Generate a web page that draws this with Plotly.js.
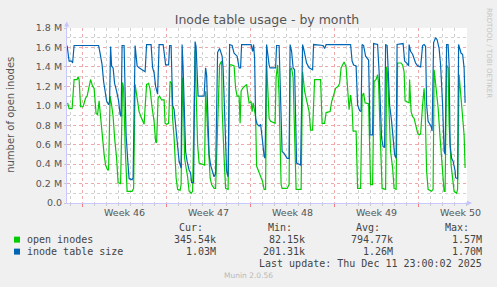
<!DOCTYPE html>
<html>
<head>
<meta charset="utf-8">
<script src="https://cdn.plot.ly/plotly-3.0.1.min.js"></script>
<style>html,body{margin:0;padding:0;background:#f0f0f0;}#chart{width:497px;height:287px;}</style>
</head>
<body>
<div id="chart"></div>
<script>
// ---- data (hours since 2025-11-08 17:00, values in millions) ----
const openHours = [1,4,10,14,20,22,24,27,32,34,37,40,44,47,51,54,58,61,64,68,71,74,77,81,83,86,89,92,95,99,102,107,111,113,116,120,130,133,136,140,144,149,154,156,159,163,166,170,174,177,179,182,185,189,194,196,199,203,206,209,211,214,216,218,221,226,228,231,233,235,238,241,244,248,251,256,258,261,264,271,275,277,280,283,286,289,294,297,301,305,309,310,314,317,322,325,329,334,337,340,344,346,348,351,355,359,362,364,368,370,372,374,377,379,383,387,391,394,397,399,402,404,407,416,418,421,424,426,428,430,440,444,446,449,452,454,456,458,468,471,475,480,484,487,491,495,507,510,515,518,526,529,533,537,542,545,548,554,558,562,564,567,570,572,578,581,587,590,593,596,603,607,611,614,618,621,623,626,630,637,639,641,644,647,651,654,658,661,668,671,674,676,684,685,688,691,694,697,701,704,707,711,714,716,719,722,729,732,734,738,742,746,749,753,754,756,759,762,764,768,771,774,779,781,784,787,791,794,796];
const openInodes = [1.03,0.97,0.97,1.27,1.27,1.30,1.27,0.99,0.99,1.03,1.08,1.10,1.18,1.27,1.20,1.18,0.92,0.91,1.05,0.81,0.70,0.50,0.39,0.34,0.34,1.10,1.01,0.89,0.67,0.46,0.21,0.20,1.24,1.18,0.60,0.12,0.12,0.15,1.22,1.06,0.94,0.87,0.81,0.98,1.22,1.23,1.17,0.98,0.84,0.63,0.62,1.08,1.10,1.06,1.06,0.82,0.81,0.82,1.25,1.23,0.87,0.67,0.46,0.26,0.14,0.13,0.19,1.29,0.98,0.46,0.36,0.27,0.12,0.10,0.12,1.57,1.15,0.60,0.41,0.40,0.39,1.15,0.81,0.46,0.26,0.19,0.15,0.15,0.90,1.42,1.46,0.98,0.46,0.15,0.14,1.42,1.42,1.41,1.18,1.10,1.10,0.82,1.15,1.18,1.20,1.22,1.10,1.03,1.04,0.94,1.03,0.98,0.89,0.38,0.33,0.29,0.22,0.14,0.14,1.45,1.15,0.87,0.84,0.82,1.29,1.42,1.10,0.53,0.19,0.15,0.15,0.19,1.37,1.39,1.29,0.90,0.45,0.14,0.14,1.35,1.15,1.01,0.94,0.75,0.75,1.27,1.27,0.82,0.82,0.93,0.94,1.04,1.11,1.18,1.20,1.23,1.39,1.45,1.40,1.01,0.96,1.11,0.98,0.74,0.74,0.15,0.15,1.10,1.13,1.03,1.02,0.19,0.19,1.25,1.27,1.32,1.23,0.74,0.15,0.14,1.40,1.32,0.94,0.53,0.36,0.15,0.14,1.44,1.44,1.42,1.35,1.05,1.03,1.27,0.94,0.89,0.87,0.81,0.72,0.70,0.71,1.01,1.18,0.98,0.33,0.14,0.12,0.14,1.37,1.18,0.98,0.67,0.46,0.22,0.12,0.12,1.42,1.39,0.81,0.39,0.26,0.12,0.10,0.14,1.32,1.15,0.94,0.70,0.36];

const sizeHours = [0,4,9,11,14,63,66,70,73,76,79,83,85,87,89,92,95,99,103,106,108,110,114,116,118,121,124,130,132,136,140,144,149,156,159,168,171,174,177,181,184,192,195,197,203,205,208,211,214,217,220,224,228,230,232,234,237,240,244,247,249,253,256,258,260,262,274,277,279,281,284,287,291,294,297,301,305,310,312,314,317,319,322,325,330,334,340,344,347,349,368,371,373,375,377,380,384,387,391,394,396,399,404,406,417,419,424,427,430,434,440,444,446,449,452,455,457,459,467,471,473,479,484,491,493,512,515,518,567,570,573,578,581,585,588,590,593,597,600,603,606,611,613,621,624,626,629,632,635,637,640,642,645,649,652,655,658,660,672,675,679,683,684,687,691,694,697,701,707,711,714,717,719,722,725,728,730,733,737,740,744,747,751,754,756,759,762,764,766,769,772,776,777,781,783,785,788,791,794,796];
const inodeTableSize = [1.62,1.46,1.46,1.44,1.62,1.62,1.54,1.42,1.25,1.15,1.05,1.01,1.05,1.61,1.41,1.39,1.23,1.15,1.05,0.91,0.89,1.62,1.62,1.15,0.70,0.46,0.25,0.24,0.26,1.62,1.41,1.39,1.37,1.35,1.63,1.63,1.39,1.34,1.20,1.12,1.63,1.63,1.51,1.42,1.42,1.62,1.62,1.01,0.96,0.81,0.60,0.43,0.36,1.63,1.39,0.94,0.53,0.43,0.34,0.31,0.21,0.21,1.66,1.61,1.42,1.10,1.10,1.39,1.32,0.94,0.50,0.39,0.31,0.27,0.30,1.55,1.59,1.51,1.39,1.05,0.60,0.33,0.27,1.63,1.62,1.54,1.51,1.39,1.39,1.63,1.63,1.56,1.63,1.49,0.87,0.81,0.79,0.81,0.63,0.48,0.46,1.63,1.42,1.39,1.39,1.62,1.62,0.98,0.53,0.51,0.46,0.46,1.63,1.56,1.39,1.37,0.85,0.41,0.39,1.63,1.59,1.44,1.39,1.37,1.63,1.62,1.59,1.63,1.63,1.46,1.42,1.41,1.01,0.95,0.94,1.63,1.62,1.51,1.49,1.47,0.70,0.70,1.64,1.63,1.35,0.98,0.67,0.58,0.57,1.63,1.62,1.39,1.01,0.84,0.70,0.50,0.46,1.63,1.64,1.46,1.44,1.41,1.63,1.56,1.53,1.49,1.44,1.41,1.40,1.62,1.63,1.61,1.01,0.84,0.82,0.79,0.74,1.65,1.70,1.68,1.59,1.42,1.01,0.53,0.50,1.63,1.63,1.42,0.60,0.46,0.43,0.33,0.26,0.25,1.63,1.59,1.54,1.53,1.39,1.03];

const weekLabels = ['Week 46','Week 47','Week 48','Week 49','Week 50'];
const weekCenters = ['2025-11-13 12:00','2025-11-20 12:00','2025-11-27 12:00','2025-12-04 12:00','2025-12-11 12:00'];
const weekStarts = ['2025-11-10','2025-11-17','2025-11-24','2025-12-01','2025-12-08'];
const yTickVals = [0,0.2,0.4,0.6,0.8,1.0,1.2,1.4,1.6,1.8];
const yTickText = ['0.0','0.2 M','0.4 M','0.6 M','0.8 M','1.0 M','1.2 M','1.4 M','1.6 M','1.8 M'];
const seriesNames = ['open inodes','inode table size'];
const statHeads = ['Cur:','Min:','Avg:','Max:'];
const statsOpen = ['345.54k','82.15k','794.77k','1.57M'];
const statsSize = ['1.03M','201.31k','1.26M','1.70M'];

// ---- helpers ----
const base = Date.UTC(2025,10,8,17,0,0);
function toDate(h){ return new Date(base + h*3600e3).toISOString().slice(0,19).replace('T',' '); }
const L=67, R=467, T=28, B=203.3;
function px(x){ return (x-L)/(R-L); }
function py(y){ return (B-y)/(B-T); }

const GREEN='#00cc00', BLUE='#0066b3';
const traces = [
  {x: openHours.map(toDate), y: openInodes, type:'scatter', mode:'lines', name:seriesNames[0],
   line:{color:GREEN, width:1.2}, hoverinfo:'skip'},
  {x: sizeHours.map(toDate), y: inodeTableSize, type:'scatter', mode:'lines', name:seriesNames[1],
   line:{color:BLUE, width:1.2}, hoverinfo:'skip'}
];

const mono = {family:'DejaVu Sans Mono', size:10, color:'#444'};
const ann = [];
function t(x,y,text,anchor,font,extra){ ann.push(Object.assign({xref:'paper',yref:'paper',x:px(x),y:py(y),text:text,showarrow:false,xanchor:anchor,yanchor:'middle',font:font,borderpad:0},extra||{})); }

// week labels
weekLabels.forEach((w,i)=>ann.push({xref:'x',yref:'paper',x:weekCenters[i],y:py(212.7),text:w,showarrow:false,xanchor:'center',yanchor:'middle',font:{family:'DejaVu Sans',size:9.5,color:'#555'},borderpad:0}));
// y axis title
t(11,115,'number of open inodes','center',{family:'DejaVu Sans',size:10,color:'#555'},{textangle:-90});
// legend header
const headX=[204,293,381,470], valX=[217,306,394,483];
statHeads.forEach((h,i)=>t(headX[i],228,h,'right',mono));
t(26,240,seriesNames[0],'left',mono);
t(26,252,seriesNames[1],'left',mono);
statsOpen.forEach((v,i)=>t(valX[i],240,v,'right',mono));
statsSize.forEach((v,i)=>t(valX[i],252,v,'right',mono));
t(483,264,'Last update: Thu Dec 11 23:00:02 2025','right',mono);
t(248,276,'Munin 2.0.56','center',{family:'DejaVu Sans',size:7.5,color:'#b8b8b8'});
t(489,53,'RRDTOOL / TOBI OETIKER','center',{family:'DejaVu Sans',size:7,color:'#c4c4c4'},{textangle:90});
// axis arrows
ann.push({xref:'paper',yref:'paper',x:px(66.7),y:py(21.5),ax:0,ay:8,text:'',showarrow:true,arrowhead:2,arrowsize:1,arrowwidth:1,arrowcolor:'#c4c4ff',standoff:0});
ann.push({xref:'paper',yref:'paper',x:px(472),y:py(203.3),ax:-8,ay:0,text:'',showarrow:true,arrowhead:2,arrowsize:1,arrowwidth:1,arrowcolor:'#c4c4ff',standoff:0});

const shapes = [
  {type:'rect',xref:'paper',yref:'paper',x0:px(14),x1:px(20),y0:py(243),y1:py(237),fillcolor:GREEN,line:{width:0}},
  {type:'rect',xref:'paper',yref:'paper',x0:px(14),x1:px(20),y0:py(255),y1:py(249),fillcolor:BLUE,line:{width:0}}
];

const layout = {
  width:497, height:287,
  paper_bgcolor:'#f0f0f0', plot_bgcolor:'#ffffff',
  margin:{l:L, r:497-R, t:T, b:287-B, pad:0},
  showlegend:false,
  font:{family:'DejaVu Sans', size:9.5, color:'#555'},
  title:{text:'Inode table usage - by month', x:0.5, xanchor:'center', xref:'paper', y:1-19.5/287, yanchor:'middle', yref:'container',
         font:{family:'DejaVu Sans', size:12.5, color:'#555'}},
  xaxis:{type:'date', range:['2025-11-08 16:48','2025-12-12 00:48'], tickmode:'array', tickvals:weekStarts,
         showticklabels:false, showgrid:true, gridcolor:'#f0a8a8', griddash:'dot', gridwidth:1,
         ticks:'outside', ticklen:3, tickcolor:'#f08080', tickwidth:1,
         showline:true, linecolor:'#c8c8ff', linewidth:1, zeroline:false, fixedrange:true,
         minor:{tickmode:'linear', tick0:'2025-11-09', dtick:86400000, showgrid:true, gridcolor:'#d0d0d0', griddash:'dot', gridwidth:1,
                ticks:'outside', ticklen:2, tickcolor:'#c8c8c8'}},
  yaxis:{range:[0,1.8], tickmode:'array', tickvals:yTickVals, ticktext:yTickText,
         showgrid:true, gridcolor:'#f0a8a8', griddash:'dot', gridwidth:1,
         ticks:'outside', ticklen:2, tickcolor:'#c8c8c8',
         showline:true, linecolor:'#c8c8ff', linewidth:1, zeroline:false, fixedrange:true,
         tickfont:{family:'DejaVu Sans', size:9.5, color:'#555'},
         minor:{tickmode:'linear', tick0:0, dtick:0.1, showgrid:true, gridcolor:'#d0d0d0', griddash:'dot', gridwidth:1}},
  annotations:ann, shapes:shapes
};
Plotly.newPlot('chart', traces, layout, {displayModeBar:false, staticPlot:true});
</script>
</body>
</html>
